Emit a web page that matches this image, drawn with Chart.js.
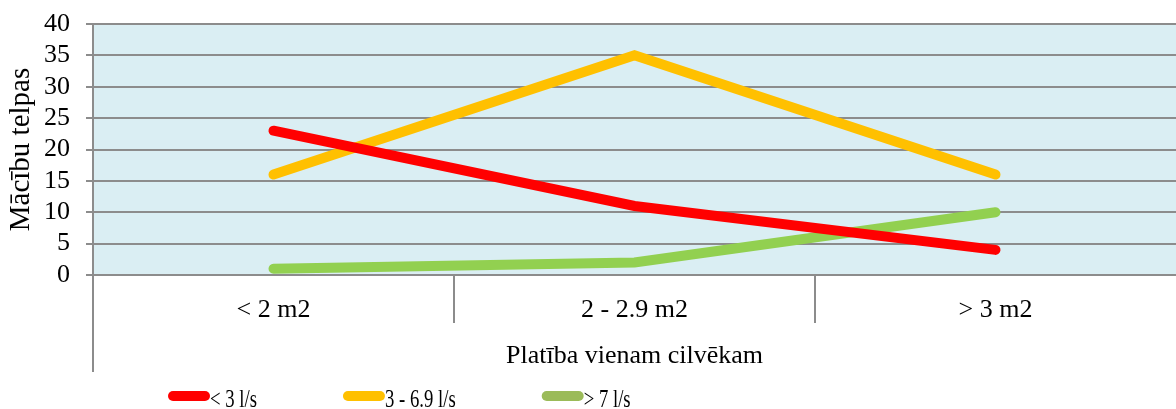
<!DOCTYPE html>
<html>
<head>
<meta charset="utf-8">
<script src="https://cdn.jsdelivr.net/npm/chart.js@4/dist/chart.umd.min.js"></script>
<style>
  html, body { margin: 0; padding: 0; background: #fff; }
  #wrap { width: 1176px; height: 409px; }
</style>
</head>
<body>
<div id="wrap"><canvas id="chart"></canvas></div>
<script>
// data
const categories = ['< 2 m2', '2 - 2.9 m2', '> 3 m2'];
const seriesNames = ['< 3 l/s', '3 - 6.9 l/s', '> 7 l/s'];
const lowFlow = [23, 11, 4];
const midFlow = [16, 35, 16];
const highFlow = [1, 2, 10];
const yTicks = [0, 5, 10, 15, 20, 25, 30, 35, 40];

const lineColors = ['#FF0000', '#FFC000', '#92D050'];
const legendColors = ['#FF0000', '#FFC000', '#9BBB59'];
const serif = 'Liberation Serif, Times New Roman, serif';

const makeSet = (label, data, i) => ({
  label: label,
  data: data,
  borderColor: lineColors[i],
  backgroundColor: legendColors[i],
  borderWidth: 10,
  borderCapStyle: 'round',
  borderJoinStyle: 'miter',
  pointRadius: 0,
  pointHoverRadius: 0,
  tension: 0,
  fill: false
});

// plot background + extended y axis + legend drawn by hand
const decorPlugin = {
  id: 'decor',
  beforeDraw(chart) {
    const { ctx, chartArea: a } = chart;
    ctx.save();
    ctx.fillStyle = '#DAEEF3';
    ctx.fillRect(a.left, a.top, a.right - a.left, a.bottom - a.top);
    ctx.restore();
  },
  afterDraw(chart) {
    const { ctx, chartArea: a } = chart;
    ctx.save();
    ctx.strokeStyle = '#8c8c8c';
    ctx.lineWidth = 2;
    ctx.beginPath();
    ctx.moveTo(a.left, a.top - 1);
    ctx.lineTo(a.left, 372);
    ctx.stroke();

    // legend (text is narrow in the original, so squeeze it)
    const squeeze = 0.72;
    ctx.font = '26px ' + serif;
    ctx.textBaseline = 'alphabetic';
    ctx.textAlign = 'left';
    let x = 168;
    const y = 396;
    chart.data.datasets.forEach((ds, i) => {
      ctx.strokeStyle = legendColors[i];
      ctx.lineWidth = 10;
      ctx.lineCap = 'round';
      ctx.beginPath();
      ctx.moveTo(x + 5, y);
      ctx.lineTo(x + 37, y);
      ctx.stroke();
      ctx.fillStyle = '#000';
      ctx.save();
      ctx.translate(x + 42, y + 11);
      ctx.scale(squeeze, 1);
      ctx.fillText(ds.label, 0, 0);
      ctx.restore();
      x += 42 + ctx.measureText(ds.label).width * squeeze + 86;
    });
    ctx.restore();
  }
};

new Chart(document.getElementById('chart'), {
  type: 'line',
  data: {
    labels: categories,
    datasets: [
      makeSet(seriesNames[0], lowFlow, 0),
      makeSet(seriesNames[1], midFlow, 1),
      makeSet(seriesNames[2], highFlow, 2)
    ]
  },
  options: {
    responsive: true,
    maintainAspectRatio: false,
    animation: false,
    layout: { padding: { top: 24, right: 0, bottom: 37, left: 0 } },
    scales: {
      x: {
        offset: true,
        border: { display: false },
        grid: {
          offset: true,
          drawOnChartArea: false,
          drawTicks: true,
          tickLength: 48,
          // no separator on the right edge
          color: c => (c.type === 'tick' ? '#8c8c8c' : 'rgba(0,0,0,0)'),
          lineWidth: 2
        },
        ticks: {
          color: '#000',
          font: { family: serif, size: 26 },
          padding: -28,
          maxRotation: 0
        },
        title: {
          display: true,
          text: 'Platība vienam cilvēkam',
          color: '#000',
          font: { family: serif, size: 26 },
          padding: { top: 10, bottom: 0 }
        },
        afterFit: s => { s.height = 97; s.paddingLeft = 0; s.paddingRight = 0; }
      },
      y: {
        min: 0,
        max: 40,
        border: { display: false },
        afterBuildTicks: s => { s.ticks = yTicks.map(v => ({ value: v })); },
        grid: {
          color: '#8c8c8c',
          lineWidth: 2,
          tickLength: 7
        },
        ticks: {
          color: '#000',
          font: { family: serif, size: 26, lineHeight: 1 },
          padding: 16,
          autoSkip: false
        },
        title: {
          display: true,
          text: 'Mācību telpas',
          color: '#000',
          font: { family: serif, size: 29 },
          padding: { top: 4, bottom: 0 }
        },
        afterFit: s => { s.width = 93; s.paddingTop = 0; s.paddingBottom = 0; }
      }
    },
    plugins: {
      legend: { display: false },
      tooltip: { enabled: false }
    }
  },
  plugins: [decorPlugin]
});
</script>
</body>
</html>
